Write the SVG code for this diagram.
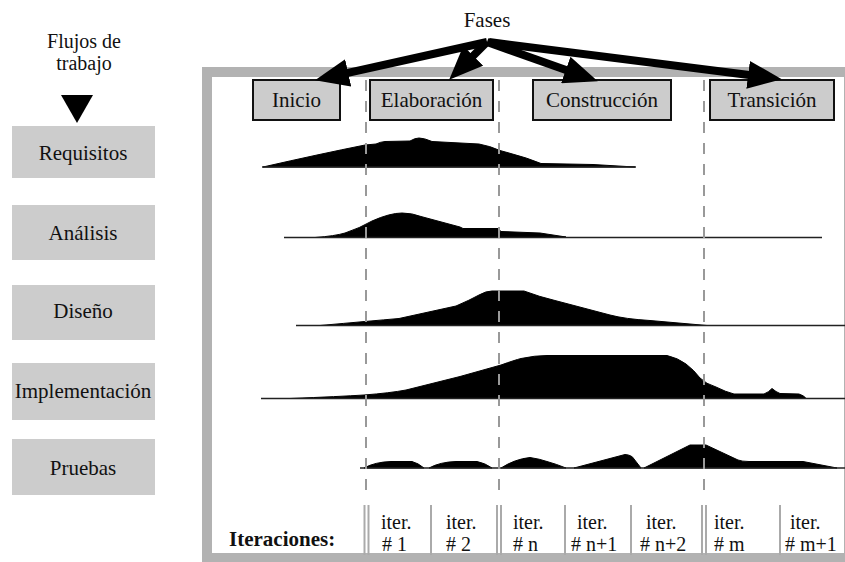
<svg xmlns="http://www.w3.org/2000/svg" width="845" height="562" viewBox="0 0 845 562">
  <style>
    text { font-family: "Liberation Serif", Tinos, "Times New Roman", "DejaVu Serif", serif; fill: #111; }
    .t { font-size: 21px; text-anchor: middle; }
    .it { font-size: 20px; }
    .flow rect { fill: #cccccc; }
    .phase rect { fill: #cccccc; stroke: #111; stroke-width: 2; }
    .dash { stroke: #999; stroke-width: 2; stroke-dasharray: 11 10; }
    .sep { stroke: #aaa; stroke-width: 2; }
    .hump { fill: #000; stroke: #000; stroke-width: 1; stroke-linejoin: round; }
    .base { stroke: #222; stroke-width: 1.6; fill: none; }
    .arrow { stroke: #000; stroke-width: 8; marker-end: url(#head); }
  </style>
  <defs>
    <marker id="head" markerUnits="userSpaceOnUse" markerWidth="34" markerHeight="28" viewBox="0 0 34 28" refX="13" refY="14" orient="auto">
      <path d="M0,0 L34,14 L0,28 z" fill="#000"/>
    </marker>
  </defs>

  <rect width="845" height="562" fill="#fff"/>

  <!-- outer frame of the phase/iteration chart -->
  <rect id="frame" x="207" y="72" width="642" height="486" fill="#fff" stroke="#b2b2b2" stroke-width="10"/>

  <!-- workflow header -->
  <g id="workflow-title">
    <text class="t" x="84" y="48" style="font-size:20px">Flujos de</text>
    <text class="t" x="84" y="70" style="font-size:20px">trabajo</text>
    <polygon points="61,95 93,95 77,123" fill="#000"/>
  </g>

  <!-- workflow boxes -->
  <g id="wf-requisitos" class="flow"><rect x="12" y="126" width="143" height="52"/><text class="t" x="83" y="160">Requisitos</text></g>
  <g id="wf-analisis" class="flow"><rect x="12" y="205" width="143" height="55"/><text class="t" x="83" y="240">Análisis</text></g>
  <g id="wf-diseno" class="flow"><rect x="12" y="285" width="143" height="55"/><text class="t" x="83" y="318">Diseño</text></g>
  <g id="wf-implementacion" class="flow"><rect x="12" y="363" width="143" height="57"/><text class="t" x="83" y="398">Implementación</text></g>
  <g id="wf-pruebas" class="flow"><rect x="12" y="439" width="143" height="56"/><text class="t" x="83" y="475">Pruebas</text></g>

  <!-- effort curves per workflow -->
  <g id="curves">
    <path class="hump" d="M263,167 Q320,154 365,145 L376,144 Q380,142 385,141.5 L410,141 Q415,138 419,138 Q424,138 432,141.5 L479,144 Q490,146 500,150.5 L509,153 Q528,158 541,163.5 L593,164.5 L635,167 Z"/>
    <line class="base" x1="262" y1="167" x2="636" y2="167"/>

    <path class="hump" d="M315,237.5 Q335,236 345,233 Q360,228 372,221 Q390,213 402,213 Q412,213 421,216.5 L460,227 L463,228.5 L498,228.5 L501,231.5 L540,233 L566,237 Z"/>
    <line class="base" x1="284" y1="237.5" x2="822" y2="237.5"/>

    <path class="hump" d="M320,325.5 Q370,321 399,318.5 L456,306 Q470,300 479,295 Q486,291 492,291 L524,291 Q540,297 555,300.5 L610,315 Q625,319 650,320.5 L707,325.5 Z"/>
    <line class="base" x1="296" y1="325.5" x2="845" y2="325.5"/>

    <path class="hump" d="M290,398.5 Q340,396.5 364,395 Q390,393 406,390 L460,376.5 L501,365 Q515,360 521,358.5 Q535,355.5 547,355.5 L667,355.5 Q678,358 686,364 Q694,370 700,378 Q706,384 716,387 Q726,392 734,394 L764,394 Q769,392 772,388.5 Q776,392 780,393.5 L799,394 Q805,396 806,398.5 Z"/>
    <line class="base" x1="261" y1="398.5" x2="845" y2="398.5"/>

    <path class="hump" d="M364,468 Q375,462 391,461.5 L412,461.5 Q418,463 424,468 Z M429,468 Q440,462 456,461.5 L477,461.5 Q485,463 492,468 Z M501,468 Q515,459 530,457.5 Q540,459 547,461.5 Q556,464 566,468 Z M574,468 L625,454.5 Q632,455 634,459 L641,468 Z M644,468 L690,445 L706,445 L738,460 Q742,461.5 749,461.5 L803,461.5 L837,468 Z"/>
    <line class="base" x1="360" y1="468" x2="845" y2="468"/>
  </g>

  <!-- phase boundaries -->
  <g id="phase-lines">
    <line class="dash" x1="366" y1="80" x2="366" y2="494"/>
    <line class="dash" x1="499" y1="80" x2="499" y2="494"/>
    <line class="dash" x1="704" y1="80" x2="704" y2="494"/>
  </g>

  <!-- phases -->
  <g id="phase-inicio" class="phase"><rect x="253" y="80" width="87" height="40"/><text class="t" x="296.5" y="107">Inicio</text></g>
  <g id="phase-elaboracion" class="phase"><rect x="370" y="80" width="123" height="40"/><text class="t" x="431.5" y="107">Elaboración</text></g>
  <g id="phase-construccion" class="phase"><rect x="533" y="80" width="138" height="40"/><text class="t" x="602" y="107">Construcción</text></g>
  <g id="phase-transicion" class="phase"><rect x="710" y="80" width="124" height="40"/><text class="t" x="772" y="107">Transición</text></g>

  <g id="fases-title"><text class="t" x="487" y="27">Fases</text></g>

  <!-- connectors from the "Fases" label to each phase -->
  <g id="connectors">
    <line class="arrow" x1="487" y1="42" x2="335.5" y2="75.7"/>
    <line class="arrow" x1="487" y1="42" x2="464" y2="65"/>
    <line class="arrow" x1="487" y1="42" x2="578" y2="74.3"/>
    <line class="arrow" x1="489" y1="42" x2="761" y2="76.5"/>
  </g>

  <!-- iterations row -->
  <g id="iterations">
    <text x="229" y="546" style="font-size: 21px; font-weight: bold;">Iteraciones:</text>
    <line class="sep" x1="364.5" y1="505" x2="364.5" y2="555"/>
    <line class="sep" x1="368.5" y1="505" x2="368.5" y2="555"/>
    <line class="sep" x1="431" y1="505" x2="431" y2="555"/>
    <line class="sep" x1="497" y1="505" x2="497" y2="555"/>
    <line class="sep" x1="501" y1="505" x2="501" y2="555"/>
    <line class="sep" x1="565" y1="505" x2="565" y2="555"/>
    <line class="sep" x1="631" y1="505" x2="631" y2="555"/>
    <line class="sep" x1="702" y1="505" x2="702" y2="555"/>
    <line class="sep" x1="706" y1="505" x2="706" y2="555"/>
    <line class="sep" x1="780" y1="505" x2="780" y2="555"/>

    <text class="it" x="381" y="529">iter.</text><text class="it" x="382" y="551"># 1</text>
    <text class="it" x="446" y="529">iter.</text><text class="it" x="446" y="551"># 2</text>
    <text class="it" x="513" y="529">iter.</text><text class="it" x="513" y="551"># n</text>
    <text class="it" x="577" y="529">iter.</text><text class="it" x="571" y="551"># n+1</text>
    <text class="it" x="646" y="529">iter.</text><text class="it" x="640" y="551"># n+2</text>
    <text class="it" x="714" y="529">iter.</text><text class="it" x="714" y="551"># m</text>
    <text class="it" x="790" y="529">iter.</text><text class="it" x="785" y="551"># m+1</text>
  </g>
</svg>
